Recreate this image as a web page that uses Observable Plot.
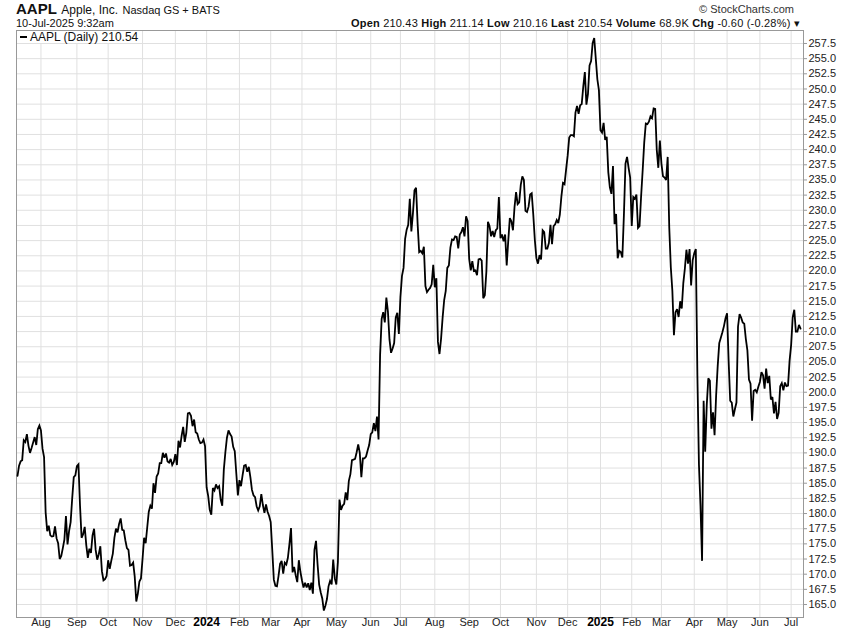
<!DOCTYPE html>
<html>
<head>
<meta charset="utf-8">
<script src="https://cdn.jsdelivr.net/npm/d3@7"></script>
<script src="https://cdn.jsdelivr.net/npm/@observablehq/plot@0.6"></script>
<style>
  html, body { margin: 0; padding: 0; background: #fff; }
  body { width: 850px; height: 633px; overflow: hidden; font-family: "Liberation Sans", Arial, sans-serif; color: #111; }
  #wrap { position: relative; width: 850px; height: 633px; }
  #header { position: relative; width: 850px; height: 28px; }
  .abs { position: absolute; white-space: nowrap; }
  #chart { line-height: 0; }
  #legend { position: absolute; left: 17px; top: 31px; height: 12px; width: 125px; background: #fff; font-size: 12px; line-height: 12px; white-space: nowrap; }
  #legend .bar { display: inline-block; width: 7px; height: 2px; background: #000; vertical-align: middle; margin: 0 3px 2px 3px; }
</style>
</head>
<body>
<div id="wrap">
  <div id="header">
    <div class="abs" style="left:16px; top:1px; line-height:15px;"><b style="font-size:15px;">AAPL</b> <span style="font-size:12px;">Apple, Inc.</span> <span style="font-size:11px;">Nasdaq GS + BATS</span></div>
    <div class="abs" style="right:56px; top:4px; font-size:11px; line-height:11px; color:#333;">© StockCharts.com</div>
    <div class="abs" style="left:16px; top:18px; font-size:11px; line-height:11px;">10-Jul-2025 9:32am</div>
    <div class="abs" style="right:50px; top:18px; font-size:11px; line-height:11px; letter-spacing:0.2px;"><b>Open</b> 210.43 <b>High</b> 211.14 <b>Low</b> 210.16 <b>Last</b> 210.54 <b>Volume</b> 68.9K <b>Chg</b> -0.60 (-0.28%) ▾</div>
  </div>
  <div id="chart"></div>
  <div id="legend"><span class="bar"></span>AAPL (Daily) 210.54</div>
</div>
<script>
// Daily closes (dividend-adjusted, as plotted), one array per month
const jul23 = [186.2, 187.9, 188.6, 188.8, 192.1, 191.8, 193.1, 191.2, 190.0, 190.8, 191.7, 192.6, 191.3, 193.9, 194.5];
const aug23 = [193.7, 190.7, 189.3, 180.2, 177.1, 178.0, 176.4, 176.2, 176.3, 177.9, 175.9, 175.1, 172.5, 173.0, 174.3, 175.7, 179.6, 174.9, 177.1, 178.6, 182.5, 186.0, 186.3];
const sep23 = [187.8, 188.1, 181.3, 176.0, 176.6, 177.8, 174.8, 172.7, 174.2, 173.5, 176.4, 177.5, 174.0, 172.4, 173.3, 174.6, 170.5, 169.0, 169.2, 169.7];
const oct23 = [172.3, 170.9, 172.2, 173.4, 176.0, 177.5, 176.9, 178.3, 179.2, 177.3, 177.2, 175.6, 174.3, 174.0, 171.4, 171.5, 171.9, 169.6, 165.5, 166.8, 168.8, 169.3];
const nov23 = [172.5, 176.0, 175.1, 177.7, 180.3, 181.3, 180.8, 185.0, 183.4, 186.1, 186.6, 188.3, 188.3, 190.0, 189.2, 189.9, 188.6, 188.4, 189.0, 188.0, 188.5];
const dec23 = [189.8, 188.0, 192.0, 190.9, 192.8, 194.3, 191.8, 193.3, 196.5, 196.6, 196.1, 194.4, 195.5, 193.4, 193.2, 192.2, 191.6, 191.7, 192.2, 191.1];
const jan24 = [184.3, 182.9, 180.6, 179.8, 184.2, 183.8, 184.8, 184.2, 184.5, 182.3, 181.3, 187.2, 190.1, 192.5, 193.7, 193.1, 192.7, 191.0, 190.3, 186.6, 183.0];
const feb24 = [185.5, 184.5, 186.3, 187.9, 188.0, 186.9, 187.7, 186.0, 183.9, 183.0, 182.7, 181.2, 180.5, 181.2, 183.2, 181.4, 180.1, 181.5, 180.3, 179.6];
const mar24 = [178.6, 174.0, 169.1, 168.1, 168.0, 169.7, 171.7, 172.2, 170.1, 171.9, 171.6, 172.7, 175.0, 177.6, 170.3, 171.2, 169.8, 168.7, 172.3, 170.4];
const apr24 = [169.0, 167.8, 168.6, 167.8, 168.5, 167.4, 168.6, 166.8, 174.0, 175.5, 171.6, 168.3, 167.0, 166.0, 164.0, 164.8, 165.9, 168.0, 168.9, 168.3, 172.4, 169.3];
const may24 = [168.3, 172.0, 182.3, 180.6, 181.3, 181.6, 183.5, 182.2, 185.4, 186.5, 188.8, 188.9, 189.0, 190.1, 191.4, 190.0, 186.0, 189.1, 189.1, 189.4, 190.4, 191.3];
const jun24 = [193.1, 193.4, 194.9, 193.6, 196.0, 192.2, 206.2, 212.1, 213.2, 211.5, 215.6, 213.3, 208.7, 206.5, 207.2, 208.1, 212.3, 213.1, 209.6];
const jul24 = [215.7, 219.2, 220.5, 225.3, 226.8, 227.6, 231.9, 226.5, 229.5, 233.3, 233.7, 227.8, 223.1, 223.3, 222.9, 224.0, 217.5, 216.5, 216.9, 217.2, 217.8, 221.0];
const aug24 = [217.3, 218.8, 208.3, 206.3, 208.8, 212.3, 215.2, 216.7, 220.5, 220.9, 223.9, 225.2, 225.1, 225.7, 225.6, 223.7, 226.0, 226.4, 227.2, 225.7, 229.0, 228.2];
const sep24 = [222.0, 220.1, 221.6, 220.0, 220.1, 219.3, 221.9, 222.0, 221.7, 215.5, 216.0, 219.9, 228.1, 227.4, 225.7, 226.6, 225.6, 226.7, 227.0, 232.2];
const oct24 = [225.4, 226.0, 224.9, 226.0, 220.9, 225.0, 228.7, 228.2, 226.7, 230.5, 233.0, 231.0, 231.3, 234.2, 235.6, 235.0, 229.9, 229.7, 230.6, 232.6, 232.8, 229.3, 225.1];
const nov24 = [222.1, 221.2, 222.6, 221.9, 226.7, 226.4, 223.7, 223.7, 224.6, 227.6, 224.4, 227.4, 227.7, 228.4, 227.9, 229.3, 232.3, 234.5, 234.3, 236.7];
const dec24 = [239.0, 242.0, 242.4, 242.4, 242.2, 246.1, 247.2, 245.9, 247.3, 247.5, 250.4, 252.8, 247.4, 249.2, 253.9, 254.6, 257.6, 258.4, 255.0, 251.6, 249.8];
const jan25 = [243.2, 242.8, 244.4, 241.6, 242.1, 236.3, 233.8, 232.7, 237.3, 227.7, 229.4, 222.1, 223.3, 223.1, 222.2, 229.3, 237.7, 238.8, 237.0, 235.4];
const feb25 = [227.4, 232.2, 231.9, 232.6, 227.1, 227.4, 232.3, 236.6, 241.2, 244.3, 244.2, 244.6, 245.5, 245.2, 246.8, 246.7, 240.0, 237.0, 241.5];
const mar25 = [237.7, 235.6, 235.4, 235.0, 238.8, 227.2, 220.6, 216.7, 209.4, 213.2, 213.7, 212.4, 215.0, 213.8, 218.0, 220.4, 223.5, 221.2, 223.6, 217.6, 221.8];
const apr25 = [222.9, 223.6, 202.9, 188.1, 181.2, 172.2, 198.6, 190.2, 197.9, 202.3, 201.9, 194.0, 196.7, 192.9, 199.5, 204.3, 208.1, 209.0, 209.9, 210.9, 212.2];
const may25 = [213.0, 205.1, 198.6, 198.3, 196.0, 197.2, 198.3, 210.8, 212.9, 212.3, 211.5, 211.3, 208.8, 206.9, 202.1, 201.4, 195.3, 200.2, 200.4, 200.0, 200.9];
const jun25 = [201.7, 203.3, 202.8, 200.6, 203.9, 201.5, 202.7, 198.8, 199.2, 196.5, 198.4, 195.6, 196.6, 201.0, 201.5, 200.3, 201.6, 201.0, 201.1, 205.2];
const jul25 = [207.8, 212.4, 213.6, 210.0, 210.0, 211.1, 210.5];

const monthCloses = [jul23, aug23, sep23, oct23, nov23, dec23, jan24, feb24, mar24, apr24, may24, jun24,
                     jul24, aug24, sep24, oct24, nov24, dec24, jan25, feb25, mar25, apr25, may25, jun25, jul25];
// x-axis labels at each month's first trading day (first, partial month unlabeled)
const monthLabels = ["", "Aug", "Sep", "Oct", "Nov", "Dec", "2024", "Feb", "Mar", "Apr", "May", "Jun",
                     "Jul", "Aug", "Sep", "Oct", "Nov", "Dec", "2025", "Feb", "Mar", "Apr", "May", "Jun", "Jul"];
// y-axis tick labels
const yTicks = [165, 167.5, 170, 172.5, 175, 177.5, 180, 182.5, 185, 187.5, 190, 192.5, 195, 197.5,
                200, 202.5, 205, 207.5, 210, 212.5, 215, 217.5, 220, 222.5, 225, 227.5, 230, 232.5,
                235, 237.5, 240, 242.5, 245, 247.5, 250, 252.5, 255, 257.5];

// build table: x = trading-day index
const series = [];
const starts = [];
let idx = 0;
monthCloses.forEach((arr, m) => {
  if (monthLabels[m]) starts.push({i: idx, label: monthLabels[m], year: /^\d{4}$/.test(monthLabels[m])});
  arr.forEach(c => series.push({i: idx++, close: c}));
});

const grid = "#e0e0e0";
const frameColor = "#999";

const chart = Plot.plot({
  width: 850,
  height: 605,
  marginTop: 2,
  marginBottom: 16,
  marginLeft: 16,
  marginRight: 47,
  x: {type: "linear", domain: [-0.64, 502.9], axis: null},
  y: {type: "linear", domain: [162.86, 259.64], axis: null, label: null},
  style: {fontFamily: "Liberation Sans, Arial, sans-serif", fontSize: "11px", color: "#222", background: "#fff", overflow: "visible"},
  marks: [
    Plot.ruleY(yTicks, {y: d => d, stroke: grid, strokeWidth: 1}),
    Plot.ruleX(starts, {x: "i", stroke: grid, strokeWidth: 1}),
    Plot.frame({stroke: frameColor}),
    Plot.line(series, {x: "i", y: "close", stroke: "#000", strokeWidth: 1.8, strokeLinejoin: "miter", strokeMiterlimit: 3}),
    Plot.axisY(yTicks, {anchor: "right", label: null, tickSize: 3, tickPadding: 2, stroke: frameColor, tickFormat: d => d.toFixed(1), fill: "#222", fontSize: 11}),
    Plot.text(starts.filter(d => !d.year), {x: "i", text: "label", frameAnchor: "bottom", dy: 8, fill: "#222", fontSize: 11, textAnchor: "middle"}),
    Plot.text(starts.filter(d => d.year), {x: "i", text: "label", frameAnchor: "bottom", dy: 8, fill: "#000", fontSize: 12, fontWeight: "bold", textAnchor: "middle"})
  ]
});
document.getElementById("chart").appendChild(chart);
</script>
</body>
</html>
